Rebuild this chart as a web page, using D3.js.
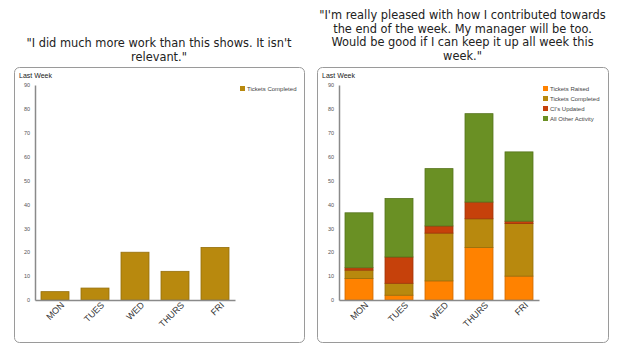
<!DOCTYPE html>
<html>
<head>
<meta charset="utf-8">
<script src="https://cdn.jsdelivr.net/npm/d3@7"></script>
<style>
  html, body { margin: 0; padding: 0; background: #fff; }
  svg { display: block; }
</style>
</head>
<body>
<svg id="chart" width="624" height="348"></svg>
<script>
// Weekly activity data
const days = ["MON", "TUES", "WED", "THURS", "FRI"];
const ticketsRaised = [9, 2, 8, 22, 10];
const ticketsCompleted = [3.5, 5, 20, 12, 22];
const cisUpdated = [1, 11, 3, 7, 1];
const otherActivity = [23, 24.5, 24, 37, 29];
const yTicks = [0, 10, 20, 30, 40, 50, 60, 70, 80, 90];

const leftTitle = ["\"I did much more work than this shows. It isn't", "relevant.\""];
const rightTitle = [
  "\"I'm really pleased with how I contributed towards",
  "the end of the week. My manager will be too.",
  "Would be good if I can keep it up all week this",
  "week.\""
];

const colors = {
  raised: "#FF8200",
  completed: "#B8890E",
  ci: "#C6410B",
  other: "#6A9024"
};

const svg = d3.select("#chart");

function drawPanel(opts) {
  const g = svg.append("g").attr("transform", `translate(${opts.x},0)`);

  // title
  const title = g.append("text")
    .attr("x", opts.w / 2)
    .attr("text-anchor", "middle")
    .attr("font-family", "DejaVu Sans")
    .attr("font-size", 11.4)
    .attr("fill", "#222");
  opts.title.forEach((line, i) => {
    title.append("tspan")
      .attr("x", opts.w / 2)
      .attr("y", opts.titleY + i * 13.5)
      .text(line);
  });

  // frame
  g.append("rect")
    .attr("x", 0.5).attr("y", 67.5)
    .attr("width", opts.w).attr("height", 275)
    .attr("rx", 5).attr("ry", 5)
    .attr("fill", "#fff")
    .attr("stroke", "#9a9a9a")
    .attr("stroke-width", 1);

  g.append("text")
    .attr("x", 5).attr("y", 78)
    .attr("font-family", "Liberation Sans, Arial, sans-serif")
    .attr("font-size", 7)
    .attr("fill", "#222")
    .text("Last Week");

  const x0 = opts.axisX;
  const x = d3.scaleBand().domain(days).range([x0, x0 + 200])
    .paddingInner(0.3).paddingOuter(0.15);
  const y = d3.scaleLinear().domain([0, 90]).range([300, 85]);

  // stacked series
  const rows = days.map((d, i) => {
    const r = { day: d };
    opts.series.forEach(s => { r[s.key] = s.values[i]; });
    return r;
  });
  const stack = d3.stack().keys(opts.series.map(s => s.key));
  const layers = stack(rows);

  g.selectAll("g.layer")
    .data(layers)
    .join("g")
    .attr("class", "layer")
    .attr("fill", d => colors[d.key])
    .attr("stroke", d => d3.color(colors[d.key]).darker(0.6))
    .attr("stroke-width", 0.8)
    .selectAll("rect")
    .data(d => d)
    .join("rect")
    .attr("x", d => x(d.data.day))
    .attr("width", x.bandwidth())
    .attr("y", d => y(d[1]))
    .attr("height", d => y(d[0]) - y(d[1]));

  // y axis
  const yAxis = d3.axisLeft(y).tickValues(yTicks).tickSize(0).tickPadding(5);
  const ya = g.append("g").attr("transform", `translate(${x0},0)`).call(yAxis);
  ya.select(".domain").attr("stroke", "#8a8a8a").attr("stroke-width", 1.5);
  ya.selectAll("text")
    .attr("font-family", "Liberation Sans, Arial, sans-serif")
    .attr("font-size", 5.5)
    .attr("fill", "#555");

  // x axis
  const xAxis = d3.axisBottom(x).tickSize(0).tickPadding(4);
  const xa = g.append("g").attr("transform", "translate(0,300)").call(xAxis);
  xa.select(".domain").attr("stroke", "#8a8a8a").attr("stroke-width", 1.5);
  xa.selectAll("text")
    .attr("font-family", "Liberation Sans, Arial, sans-serif")
    .attr("font-size", 9)
    .attr("fill", "#333")
    .attr("text-anchor", "end")
    .attr("dy", "0.3em")
    .attr("transform", "translate(5,1) rotate(-45)");

  // legend
  const lg = g.append("g").attr("transform", `translate(${opts.legendX},86)`);
  opts.series.forEach((s, i) => {
    const row = lg.append("g").attr("transform", `translate(0,${i * 10})`);
    row.append("rect")
      .attr("width", 5).attr("height", 5)
      .attr("fill", colors[s.key]);
    row.append("text")
      .attr("x", 7).attr("y", 4.6)
      .attr("font-family", "Liberation Sans, Arial, sans-serif")
      .attr("font-size", 6)
      .attr("fill", "#444")
      .text(s.label);
  });
}

drawPanel({
  x: 14, w: 290, titleY: 47, title: leftTitle,
  axisX: 21, legendX: 226,
  series: [{ key: "completed", label: "Tickets Completed", values: ticketsCompleted }]
});

drawPanel({
  x: 317, w: 291, titleY: 19, title: rightTitle,
  axisX: 22, legendX: 226,
  series: [
    { key: "raised", label: "Tickets Raised", values: ticketsRaised },
    { key: "completed", label: "Tickets Completed", values: ticketsCompleted },
    { key: "ci", label: "CI's Updated", values: cisUpdated },
    { key: "other", label: "All Other Activity", values: otherActivity }
  ]
});
</script>
</body>
</html>
